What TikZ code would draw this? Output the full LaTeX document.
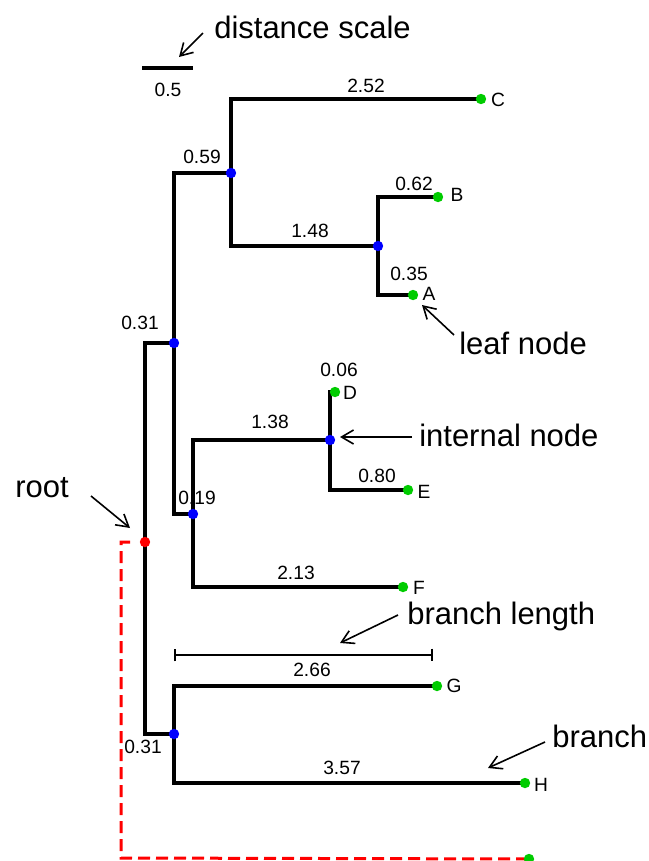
\documentclass[tikz,border=0pt]{standalone}
\usepackage{fontspec}
\setmainfont{Liberation Sans}
\usetikzlibrary{arrows.meta,backgrounds,calc}
\definecolor{leafgreen}{RGB}{0,204,0}
\definecolor{innerblue}{RGB}{0,0,255}
\definecolor{rootred}{RGB}{255,0,0}
\begin{document}
\begin{tikzpicture}[
  x=0.75pt, y=-0.75pt,
  dotnode/.style={circle, inner sep=0pt, minimum size=7.8pt},
  leafdot/.style={dotnode, fill=leafgreen},
  innerdot/.style={dotnode, fill=innerblue},
  rootdot/.style={dotnode, fill=rootred},
  branch/.style={line width=3.6pt, black},
  lenlabel/.style={font=\fontsize{14.4}{16}\selectfont, inner sep=0pt},
  callout/.style={font=\fontsize{23.25}{28}\selectfont, inner sep=0pt, anchor=base west},
  pointer/.style={-{Straight Barb[length=9pt,width=10.5pt]}, line width=1.2pt},
  rootlink/.style={rootred, line width=2.25pt, dash pattern=on 9pt off 4.5pt},
  scalebar/.style={line width=3.6pt},
  measure/.style={line width=1.3pt, {Bar[width=9.5pt]}-{Bar[width=9.5pt]}}
]
\useasboundingbox (0,0) rectangle (649,861);

% ---- tree nodes ----
\node[rootdot]  (root) at (145,542) {};
\node[innerdot] (nA)   at (174,343) {};
\node[innerdot] (nC)   at (231,173) {};
\node[innerdot] (nAB)  at (378,246) {};
\node[innerdot] (nD)   at (193,514) {};
\node[innerdot] (nDE)  at (330,440) {};
\node[innerdot] (nG)   at (174,734) {};
\node[leafdot]  (C) at (481,99)  {};
\node[leafdot]  (B) at (438,197) {};
\node[leafdot]  (A) at (413,295) {};
\node[leafdot]  (D) at (335,392) {};
\node[leafdot]  (E) at (408,490) {};
\node[leafdot]  (F) at (403,587) {};
\node[leafdot]  (G) at (437,686) {};
\node[leafdot]  (H) at (525,783) {};
\node[leafdot]  (out) at (529,859) {};

% ---- branches ----
\begin{pgfonlayer}{background}
  \draw[branch] (root.center) |- (nA.center);
  \draw[branch] (root.center) |- (nG.center);
  \draw[branch] (nA.center) |- (nC.center);
  \draw[branch] (nA.center) |- (nD.center);
  \draw[branch] (nC.center) |- (C.center);
  \draw[branch] (nC.center) |- (nAB.center);
  \draw[branch] (nAB.center) |- (B.center);
  \draw[branch] (nAB.center) |- (A.center);
  \draw[branch] (nD.center) |- (nDE.center);
  \draw[branch] (nD.center) |- (F.center);
  \draw[branch] (nDE.center) |- (D.center);
  \draw[branch] (nDE.center) |- (E.center);
  \draw[branch] (nG.center) |- (G.center);
  \draw[branch] (nG.center) |- (H.center);
  % dashed link from the root to the outgroup
  \coordinate (rootstub) at (130,542);
  \coordinate (bend) at (121,858);
  \draw[rootlink] (rootstub) -| (bend) -- (out.center);
\end{pgfonlayer}

% ---- leaf names ----
\node[lenlabel] (lC) at (498,100) {C};
\node[lenlabel] (lB) at (457,195) {B};
\node[lenlabel] (lA) at (429,294) {A};
\node[lenlabel] (lD) at (350,393) {D};
\node[lenlabel] (lE) at (424,492) {E};
\node[lenlabel] (lF) at (419,588) {F};
\node[lenlabel] (lG) at (454,686) {G};
\node[lenlabel] (lH) at (541,785) {H};

% ---- branch lengths ----
\node[lenlabel] (bC)   at (366,86)  {2.52};
\node[lenlabel] (bnC)  at (202,157) {0.59};
\node[lenlabel] (bnAB) at (310,231) {1.48};
\node[lenlabel] (bB)   at (414,184) {0.62};
\node[lenlabel] (bA)   at (409,274) {0.35};
\node[lenlabel] (bnA)  at (140,323) {0.31};
\node[lenlabel] (bD)   at (339,370) {0.06};
\node[lenlabel] (bnDE) at (270,422) {1.38};
\node[lenlabel] (bE)   at (377,476) {0.80};
\node[lenlabel] (bnD)  at (197,498) {0.19};
\node[lenlabel] (bF)   at (296,573) {2.13};
\node[lenlabel] (bG)   at (312,670) {2.66};
\node[lenlabel] (bnG)  at (143,747) {0.31};
\node[lenlabel] (bH)   at (342,768) {3.57};

% ---- distance scale ----
\coordinate (sbL) at (142,68);
\coordinate (sbR) at (193,68);
\draw[scalebar] (sbL) -- (sbR);
\node[lenlabel] (sbtext) at (168,90) {0.5};

% ---- branch length bar ----
\coordinate (blL) at (174,655);
\coordinate (blR) at (433,655);
\draw[measure] (blL) -- (blR);

% ---- callouts ----
\node[callout] (tScale)    at (214,38)  {distance scale};
\node[callout] (tLeaf)     at (459,354) {leaf node};
\node[callout] (tInternal) at (419,446) {internal node};
\node[callout] (tRoot)     at (15,497)  {root};
\node[callout] (tBlen)     at (407,624) {branch length};
\node[callout] (tBranch)   at (552,747) {branch};

\coordinate (pS1) at (203,33);  \coordinate (pS2) at (179,57);
\coordinate (pL1) at (454,335); \coordinate (pL2) at (422,305);
\coordinate (pI1) at (412,437); \coordinate (pI2) at (340,437);
\coordinate (pR1) at (91,496);  \coordinate (pR2) at (130,528);
\coordinate (pB1) at (398,615); \coordinate (pB2) at (340,643);
\coordinate (pH1) at (545,742); \coordinate (pH2) at (488,768);
\draw[pointer] (pS1) -- (pS2);
\draw[pointer] (pL1) -- (pL2);
\draw[pointer] (pI1) -- (pI2);
\draw[pointer] (pR1) -- (pR2);
\draw[pointer] (pB1) -- (pB2);
\draw[pointer] (pH1) -- (pH2);
\end{tikzpicture}
\end{document}
